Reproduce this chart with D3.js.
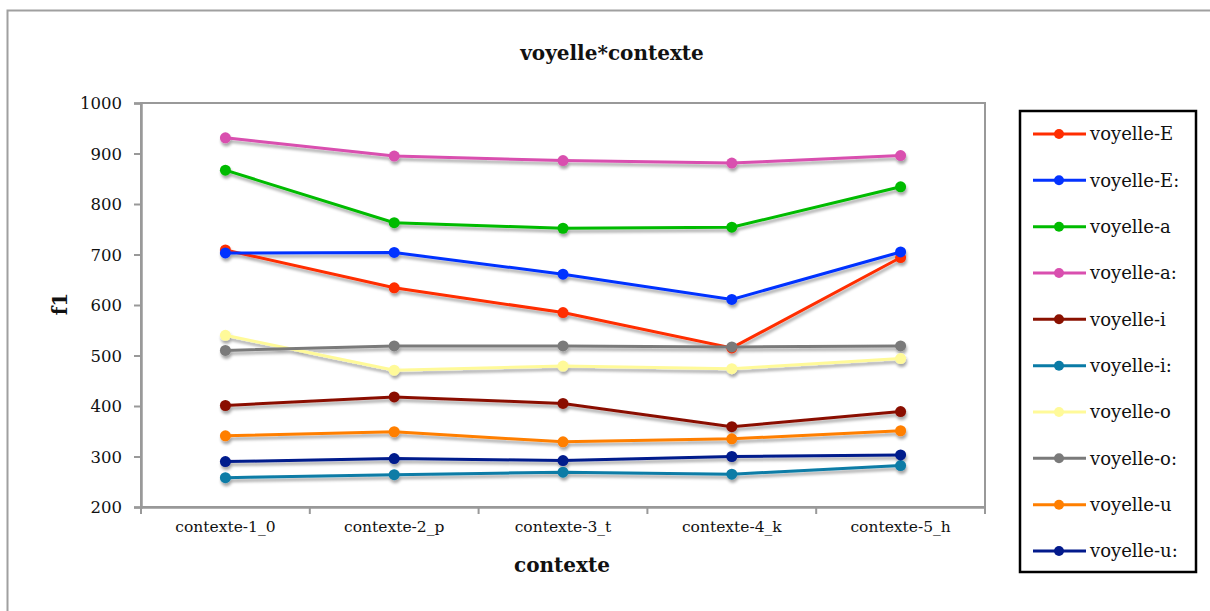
<!DOCTYPE html>
<html>
<head>
<meta charset="utf-8">
<script src="https://cdn.jsdelivr.net/npm/d3@7"></script>
<style>
  html, body { margin: 0; padding: 0; background: #fff; }
  svg { display: block; }
  text { font-family: "DejaVu Serif", "Liberation Serif", serif; fill: #111; }
</style>
</head>
<body>
<svg id="chart" width="1210" height="611"></svg>
<script>
const categories = ["contexte-1_0", "contexte-2_p", "contexte-3_t", "contexte-4_k", "contexte-5_h"];
const seriesNames = ["voyelle-E", "voyelle-E:", "voyelle-a", "voyelle-a:", "voyelle-i", "voyelle-i:", "voyelle-o", "voyelle-o:", "voyelle-u", "voyelle-u:"];
const vE  = [709, 634, 585, 515, 694];
const vE2 = [703, 704, 661, 611, 705];
const va  = [867, 763, 752, 754, 834];
const va2 = [931, 895, 886, 881, 896];
const vi  = [401, 418, 405, 359, 389];
const vi2 = [258, 264, 269, 265, 282];
const vo  = [540, 471, 479, 474, 494];
const vo2 = [510, 519, 519, 517, 519];
const vu  = [341, 349, 329, 335, 351];
const vu2 = [290, 296, 292, 300, 303];
const seriesValues = [vE, vE2, va, va2, vi, vi2, vo, vo2, vu, vu2];
const seriesColors = ["#ff2d00", "#0433ff", "#00bb00", "#d94faf", "#8a1100", "#0a7ba6", "#fffa99", "#7a7a7a", "#ff7f00", "#031a8c"];
const yTicks = [200, 300, 400, 500, 600, 700, 800, 900, 1000];
const titleText = "voyelle*contexte";
const xTitle = "contexte";
const yTitle = "f1";

const svg = d3.select("#chart");
const m = { left: 141, right: 985, top: 103, bottom: 507 };

// drop shadow filter
const defs = svg.append("defs");
const f = defs.append("filter").attr("id", "sh").attr("x", "-20%").attr("y", "-20%").attr("width", "140%").attr("height", "140%");
f.append("feGaussianBlur").attr("in", "SourceAlpha").attr("stdDeviation", 1.5).attr("result", "b");
f.append("feOffset").attr("in", "b").attr("dx", 1).attr("dy", 3).attr("result", "o");
f.append("feComponentTransfer").attr("in", "o").attr("result", "o2")
  .append("feFuncA").attr("type", "linear").attr("slope", 0.35);
const mg = f.append("feMerge");
mg.append("feMergeNode").attr("in", "o2");
mg.append("feMergeNode").attr("in", "SourceGraphic");

// outer frame
svg.append("rect").attr("x", 7.5).attr("y", 10.5).attr("width", 1220).attr("height", 620)
  .attr("fill", "#fff").attr("stroke", "#a0a0a0").attr("stroke-width", 2);

const x = d3.scaleBand().domain(categories).range([m.left, m.right]).padding(0);
const y = d3.scaleLinear().domain([200, 1000]).range([m.bottom, m.top]);

// plot frame
svg.append("rect").attr("x", m.left).attr("y", m.top).attr("width", m.right - m.left).attr("height", m.bottom - m.top)
  .attr("fill", "none").attr("stroke", "#999").attr("stroke-width", 2);

// y axis
const yAxis = d3.axisLeft(y).tickValues(yTicks).tickSize(7).tickPadding(12).tickFormat(d3.format("d"));
const gy = svg.append("g").attr("transform", `translate(${m.left},0)`).call(yAxis);
gy.select(".domain").attr("stroke", "#999").attr("stroke-width", 2.5);
gy.selectAll(".tick line").attr("stroke", "#999").attr("stroke-width", 2);
gy.selectAll(".tick text").attr("font-size", 16.5).attr("font-family", "DejaVu Serif").attr("fill", "#111").attr("dy", "0.36em");

// x axis
const xAxis = d3.axisBottom(x).tickSize(0).tickPadding(14);
const gx = svg.append("g").attr("transform", `translate(0,${m.bottom})`).call(xAxis);
gx.select(".domain").attr("stroke", "#999").attr("stroke-width", 2.5);
gx.selectAll(".tick text").attr("font-size", 15.5).attr("font-family", "DejaVu Serif").attr("fill", "#111");
// boundary ticks
const bounds = categories.map(c => x(c)).concat([m.right]);
gx.selectAll(".bt").data(bounds).enter().append("line")
  .attr("x1", d => d).attr("x2", d => d).attr("y1", 0).attr("y2", 7)
  .attr("stroke", "#999").attr("stroke-width", 2);

// lines
const line = d3.line().x((d, i) => x(categories[i]) + x.bandwidth() / 2).y(d => y(d));
const plotG = svg.append("g").attr("filter", "url(#sh)");
seriesValues.forEach((vals, k) => {
  const g = plotG.append("g");
  g.append("path").datum(vals).attr("d", line).attr("fill", "none")
    .attr("stroke", seriesColors[k]).attr("stroke-width", 3);
  g.selectAll("circle").data(vals).enter().append("circle")
    .attr("cx", (d, i) => x(categories[i]) + x.bandwidth() / 2)
    .attr("cy", d => y(d)).attr("r", 5.5).attr("fill", seriesColors[k]);
});

// title
svg.append("text").attr("x", 612).attr("y", 60).attr("text-anchor", "middle")
  .attr("font-size", 20).attr("font-weight", "bold").text(titleText);
svg.append("text").attr("x", 562).attr("y", 572).attr("text-anchor", "middle")
  .attr("font-size", 20).attr("font-weight", "bold").text(xTitle);
svg.append("text").attr("transform", "translate(67,304) rotate(-90)").attr("text-anchor", "middle")
  .attr("font-size", 20).attr("font-weight", "bold").text(yTitle);

// legend
const lg = svg.append("g");
lg.append("rect").attr("x", 1020).attr("y", 111).attr("width", 176).attr("height", 461)
  .attr("fill", "#fff").attr("stroke", "#000").attr("stroke-width", 2.5);
const ly = d3.scalePoint().domain(seriesNames).range([134, 551]);
seriesNames.forEach((n, k) => {
  const yy = ly(n);
  lg.append("line").attr("x1", 1033).attr("x2", 1086).attr("y1", yy).attr("y2", yy)
    .attr("stroke", seriesColors[k]).attr("stroke-width", 3);
  lg.append("circle").attr("cx", 1059).attr("cy", yy).attr("r", 5).attr("fill", seriesColors[k]);
  lg.append("text").attr("x", 1090).attr("y", yy).attr("dy", "0.36em").attr("font-size", 18).text(n);
});
</script>
</body>
</html>
